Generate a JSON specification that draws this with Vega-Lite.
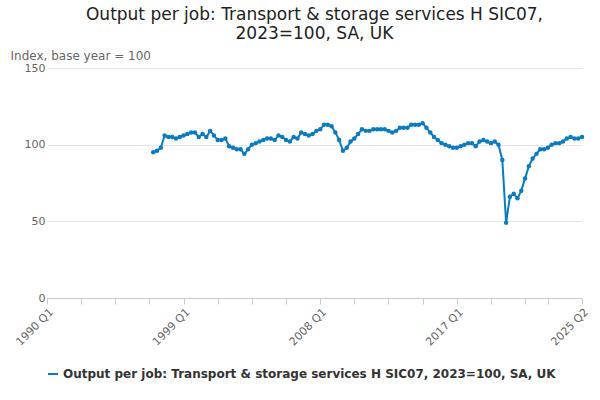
{
  "$schema": "https://vega.github.io/schema/vega-lite/v6.json",
  "width": 535,
  "height": 230,
  "padding": {"left": 10, "top": 6, "right": 18, "bottom": 6},
  "title": {
    "text": ["Output per job: Transport & storage services H SIC07,", "2023=100, SA, UK"],
    "fontSize": 17,
    "fontWeight": "normal",
    "font": "DejaVu Sans",
    "color": "#222",
    "offset": 6
  },
  "data": {
    "values": [
      {"t":28,"v":95},{"t":29,"v":96},{"t":30,"v":98},{"t":31,"v":106},
      {"t":32,"v":105},{"t":33,"v":105},{"t":34,"v":104},{"t":35,"v":105},
      {"t":36,"v":106},{"t":37,"v":107},{"t":38,"v":108},{"t":39,"v":108},
      {"t":40,"v":105},{"t":41,"v":107},{"t":42,"v":105},{"t":43,"v":109},
      {"t":44,"v":106},{"t":45,"v":103},{"t":46,"v":103},{"t":47,"v":104},
      {"t":48,"v":99},{"t":49,"v":98},{"t":50,"v":97},{"t":51,"v":97},
      {"t":52,"v":94},{"t":53,"v":97},{"t":54,"v":100},{"t":55,"v":101},
      {"t":56,"v":102},{"t":57,"v":103},{"t":58,"v":104},{"t":59,"v":104},
      {"t":60,"v":103},{"t":61,"v":106},{"t":62,"v":105},{"t":63,"v":103},
      {"t":64,"v":102},{"t":65,"v":105},{"t":66,"v":104},{"t":67,"v":108},
      {"t":68,"v":107},{"t":69,"v":106},{"t":70,"v":107},{"t":71,"v":109},
      {"t":72,"v":110},{"t":73,"v":113},{"t":74,"v":113},{"t":75,"v":112},
      {"t":76,"v":108},{"t":77,"v":103},{"t":78,"v":96},{"t":79,"v":98},
      {"t":80,"v":102},{"t":81,"v":104},{"t":82,"v":107},{"t":83,"v":110},
      {"t":84,"v":109},{"t":85,"v":109},{"t":86,"v":110},{"t":87,"v":110},
      {"t":88,"v":110},{"t":89,"v":110},{"t":90,"v":109},{"t":91,"v":108},
      {"t":92,"v":109},{"t":93,"v":111},{"t":94,"v":111},{"t":95,"v":111},
      {"t":96,"v":113},{"t":97,"v":113},{"t":98,"v":113},{"t":99,"v":114},
      {"t":100,"v":111},{"t":101,"v":108},{"t":102,"v":105},{"t":103,"v":103},
      {"t":104,"v":101},{"t":105,"v":100},{"t":106,"v":99},{"t":107,"v":98},
      {"t":108,"v":98},{"t":109,"v":99},{"t":110,"v":100},{"t":111,"v":101},
      {"t":112,"v":101},{"t":113,"v":99},{"t":114,"v":102},{"t":115,"v":103},
      {"t":116,"v":102},{"t":117,"v":101},{"t":118,"v":102},{"t":119,"v":100},
      {"t":120,"v":90},{"t":121,"v":49},{"t":122,"v":66},{"t":123,"v":68},
      {"t":124,"v":65},{"t":125,"v":70},{"t":126,"v":78},{"t":127,"v":86},
      {"t":128,"v":91},{"t":129,"v":94},{"t":130,"v":97},{"t":131,"v":97},
      {"t":132,"v":98},{"t":133,"v":100},{"t":134,"v":101},{"t":135,"v":101},
      {"t":136,"v":102},{"t":137,"v":104},{"t":138,"v":105},{"t":139,"v":104},
      {"t":140,"v":104},{"t":141,"v":105}
    ]
  },
  "mark": {"type": "line", "point": {"size": 20, "filled": true}, "strokeWidth": 2},
  "encoding": {
    "x": {
      "field": "t",
      "type": "quantitative",
      "scale": {"domain": [0, 141], "nice": false, "zero": false},
      "axis": {
        "title": null,
        "grid": false,
        "values": [0, 9, 18, 27, 36, 45, 54, 63, 72, 81, 90, 99, 108, 117, 126, 132, 141],
        "labelExpr": "datum.value == 0 ? '1990 Q1' : datum.value == 36 ? '1999 Q1' : datum.value == 72 ? '2008 Q1' : datum.value == 108 ? '2017 Q1' : datum.value == 141 ? '2025 Q2' : ''",
        "labelAngle": -45,
        "labelAlign": "right",
        "labelFontSize": 11,
        "labelColor": "#666",
        "tickColor": "#ccc",
        "domainColor": "#ccc",
        "tickSize": 6
      }
    },
    "y": {
      "field": "v",
      "type": "quantitative",
      "scale": {"domain": [0, 150]},
      "axis": {
        "values": [0, 50, 100, 150],
        "title": "Index, base year = 100",
        "titleAngle": 0,
        "titleAlign": "left",
        "titleBaseline": "bottom",
        "titleX": -37,
        "titleY": -6,
        "titleFontWeight": "normal",
        "titleFontSize": 12,
        "titleColor": "#666",
        "labelFontSize": 11,
        "labelColor": "#666",
        "domain": false,
        "ticks": false,
        "gridColor": "#e6e6e6"
      }
    },
    "color": {
      "datum": "Output per job: Transport & storage services H SIC07, 2023=100, SA, UK",
      "type": "nominal",
      "scale": {"range": ["#0a7bc1"]},
      "legend": {
        "orient": "bottom",
        "title": null,
        "labelFontSize": 12,
        "labelFontWeight": "bold",
        "labelColor": "#333",
        "symbolType": "stroke",
        "symbolStrokeWidth": 2,
        "labelLimit": 600,
        "offset": 20
      }
    }
  },
  "config": {
    "font": "DejaVu Sans",
    "view": {"stroke": null}
  }
}
